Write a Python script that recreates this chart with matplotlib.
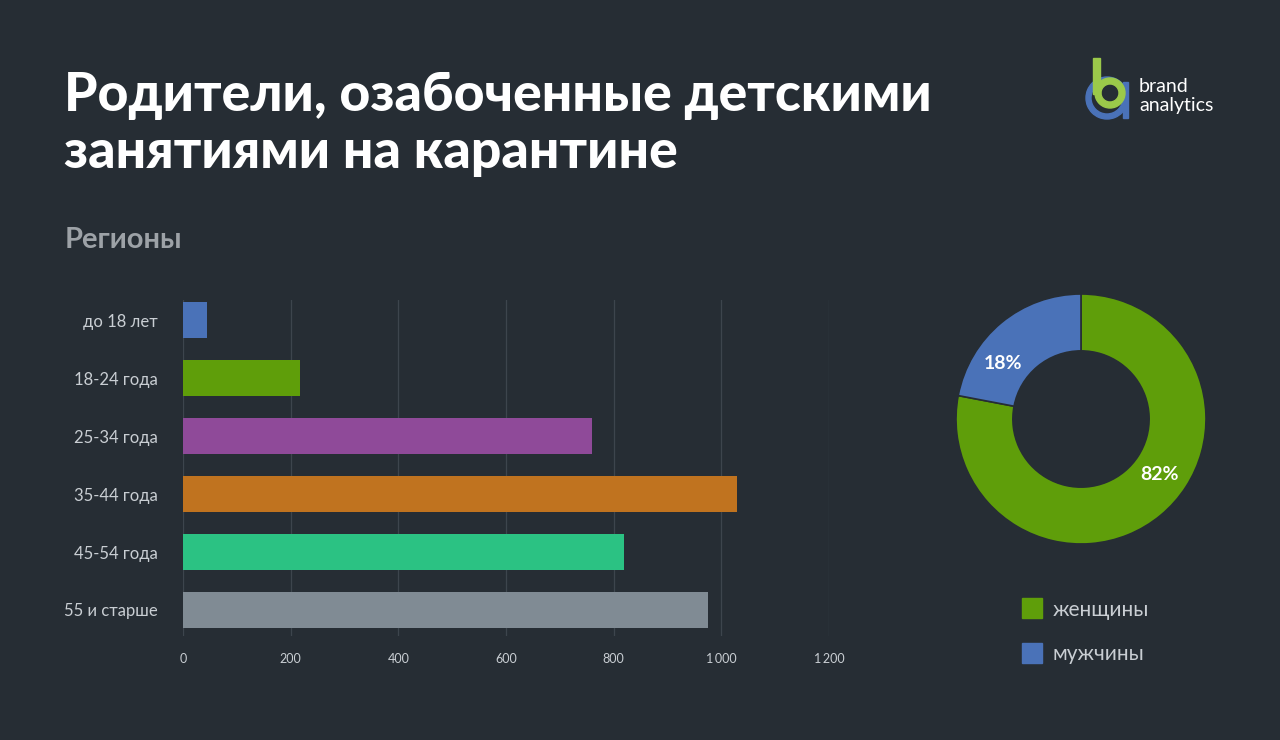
import numpy as np
import matplotlib
matplotlib.use('Agg')
from matplotlib import pyplot as plt
from matplotlib.lines import Line2D
from matplotlib.patches import Rectangle, Wedge

# data
age_groups = ['до 18 лет', '18-24 года', '25-34 года', '35-44 года', '45-54 года', '55 и старше']
age_counts = [45, 217, 760, 1029, 819, 975]
age_colors = ['#4a72b8', '#5f9e0a', '#8f4a99', '#c0731f', '#2bc283', '#808b94']
x_ticks = [0, 200, 400, 600, 800, 1000, 1200]
x_tick_labels = ['0', '200', '400', '600', '800', '1\u2009000', '1\u2009200']

gender_labels = ['женщины', 'мужчины']
gender_share = [82, 18]        # printed on the donut
gender_arc = [78, 22]          # arc sizes as drawn in the picture
gender_colors = ['#5f9e0a', '#4a72b8']

BG = '#262d34'
TXT = '#c9ced3'

plt.rcParams['font.family'] = ['Lato', 'DejaVu Sans']

fig = plt.figure(figsize=(12.8, 7.4), dpi=100, facecolor=BG)

# title + subtitle
fig.text(64 / 1280, 1 - 111 / 740, 'Родители, озабоченные детскими',
         color='white', fontsize=38.5, fontweight='black', va='baseline', ha='left')
fig.text(64 / 1280, 1 - 168 / 740, 'занятиями на карантине',
         color='white', fontsize=38.5, fontweight='black', va='baseline', ha='left')
fig.text(65 / 1280, 1 - 240 / 740, 'Регионы', color='#9da2a7', fontsize=21,
         fontweight='bold', va='center', ha='left')

# logo
fig.text(1139 / 1280, 1 - 87 / 740, 'brand', color='white', fontsize=14, va='center')
fig.text(1139 / 1280, 1 - 105 / 740, 'analytics', color='white', fontsize=14, va='center')
lax = fig.add_axes([1080 / 1280, 1 - 125 / 740, 55 / 1280, 70 / 740])
lax.set_xlim(1080, 1135)
lax.set_ylim(125, 55)
lax.axis('off')
lax.add_patch(Wedge((1107, 98), 21, 0, 360, width=5, color='#4a72b8'))
lax.add_patch(Rectangle((1123, 82), 5, 36, color='#4a72b8'))
lax.add_patch(Wedge((1110, 93), 15, 0, 360, width=6, color='#9bc94a'))
lax.add_patch(Rectangle((1093, 58), 7, 36, color='#9bc94a'))

# bar chart
ax = fig.add_axes([183 / 1280, 1 - 636 / 740, (829 - 183) / 1280, 336 / 740])
ax.set_facecolor(BG)
y = np.arange(len(age_groups))
ax.barh(y, age_counts, height=0.62, color=age_colors, zorder=3)
ax.set_xlim(0, 1200)
ax.set_ylim(5.45, -0.35)
ax.set_xticks(x_ticks)
ax.set_xticklabels(x_tick_labels)
ax.set_yticks(y)
ax.set_yticklabels(age_groups)
ax.tick_params(axis='y', length=0, pad=18, labelsize=12, labelcolor=TXT)
ax.tick_params(axis='x', length=0, pad=12, labelsize=9, labelcolor=TXT)
ax.grid(axis='x', color='#3d454d', linewidth=0.9, zorder=0)
ax.set_axisbelow(True)
for s in ax.spines.values():
    s.set_visible(False)

# donut
pax = fig.add_axes([(1081 - 125) / 1280, 1 - (419 + 125) / 740, 250 / 1280, 250 / 740])
wedges, _ = pax.pie(gender_arc, colors=gender_colors, startangle=90, counterclock=False,
                    wedgeprops=dict(width=0.455, edgecolor=BG, linewidth=1.2))
pax.set_xlim(-1, 1)
pax.set_ylim(-1, 1)
for w, v in zip(wedges, gender_share):
    ang = np.deg2rad((w.theta1 + w.theta2) / 2 + 15)
    pax.text(0.77 * np.cos(ang), 0.77 * np.sin(ang), f'{v}%', color='white',
             fontsize=14, fontweight='bold', ha='center', va='center')

handles = [Line2D([], [], marker='s', linestyle='none', markersize=15,
                  markerfacecolor=c, markeredgecolor=c) for c in gender_colors]
fig.legend(handles, gender_labels, loc='center left',
           bbox_to_anchor=(1011 / 1280, 1 - 632 / 740), frameon=False, borderpad=0,
           labelcolor=TXT, fontsize=15, handlelength=1.0, handletextpad=0.5,
           labelspacing=1.2)

plt.savefig('out.png', dpi=100, facecolor=BG)
